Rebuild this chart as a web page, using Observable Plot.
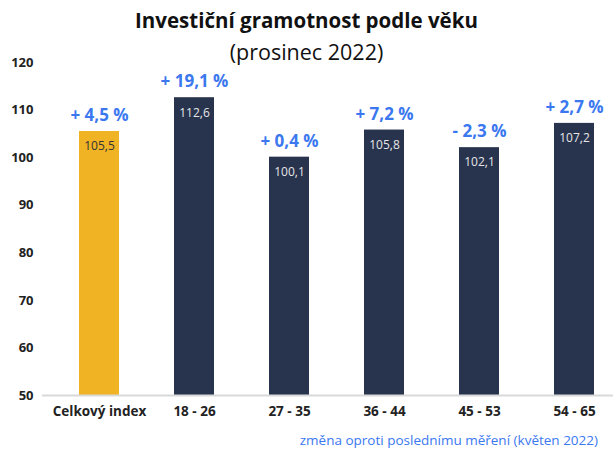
<!DOCTYPE html>
<html><head><meta charset="utf-8">
<script src="https://cdn.jsdelivr.net/npm/d3@7"></script>
<script src="https://cdn.jsdelivr.net/npm/@observablehq/plot@0.6"></script>
<style>
body{margin:0;background:#fff;font-family:"Open Sans",sans-serif;}
#wrap{position:relative;width:613px;height:452px;overflow:hidden}
#title{position:absolute;left:0;width:613px;top:6px;text-align:center;font-weight:700;font-size:20.5px;color:#111;line-height:28px}
#sub{position:absolute;left:0;width:613px;top:38px;text-align:center;font-weight:400;font-size:21.5px;color:#111;line-height:28px}
#cap{position:absolute;right:15px;top:431px;color:#3b78f0;font-size:13.5px;line-height:18px}
#chart{position:absolute;left:0;top:0}
</style></head>
<body>
<div id="wrap">
<div id="chart"></div>
<div id="title">Investiční gramotnost podle věku</div>
<div id="sub">(prosinec 2022)</div>
<div id="cap">změna oproti poslednímu měření (květen 2022)</div>
</div>
<script>
const categories = ["Celkový index","18 - 26","27 - 35","36 - 44","45 - 53","54 - 65"];
const values = [105.5,112.6,100.1,105.8,102.1,107.2];
const changes = ["+ 4,5 %","+ 19,1 %","+ 0,4 %","+ 7,2 %","- 2,3 %","+ 2,7 %"];
const yTicks = [50,60,70,80,90,100,110,120];

const data = categories.map((c,i)=>({cat:c, value:values[i], change:changes[i], label:values[i].toFixed(1).replace(".",","), total:i===0}));

const chart = Plot.plot({
  width:613, height:452,
  marginTop:62, marginBottom:57, marginLeft:42, marginRight:0,
  style:{fontFamily:"Open Sans, sans-serif", color:"#222", background:"transparent"},
  x:{domain:categories, range:[49,623], paddingInner:0.58, paddingOuter:0.29},
  y:{domain:[50,120]},
  marks:[
    Plot.barY(data,{x:"cat", y1:50, y2:"value", fill:d=>d.total?"#F0B323":"#28334E"}),
    Plot.ruleY([50],{stroke:"#d9d9d9", strokeWidth:2}),
    Plot.text(data,{x:"cat", y:"value", text:"label", dy:15, fill:d=>d.total?"#333":"#e6e6e6", fontSize:12}),
    Plot.text(data,{x:"cat", y:"value", text:"change", dy:-16, fill:"#3b78f0", fontSize:17, fontWeight:"bold"}),
    Plot.axisY({ticks:yTicks, tickSize:0, tickPadding:9, fontSize:13, fontWeight:"bold", label:null}),
    Plot.axisX({tickSize:0, tickPadding:11, fontSize:13.5, fontWeight:"bold", label:null})
  ]
});
document.getElementById("chart").appendChild(chart);
</script>
</body></html>
